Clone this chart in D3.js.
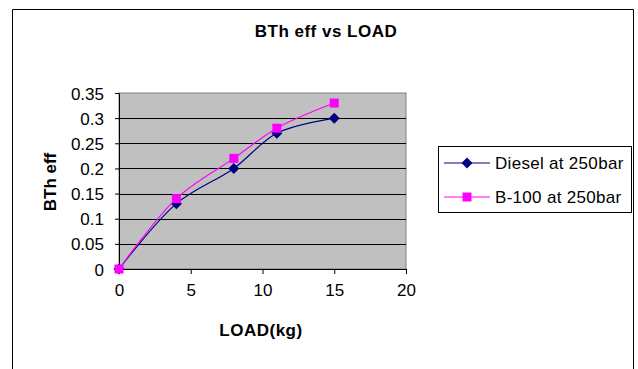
<!DOCTYPE html>
<html>
<head>
<meta charset="utf-8">
<script src="https://cdn.jsdelivr.net/npm/d3@7"></script>
<style>
  body { margin: 0; background: #fff; }
  svg { font-family: "Liberation Sans", Arial, sans-serif; }
</style>
</head>
<body>
<div id="chart"></div>
<script>
var loads = [0, 4, 8, 11, 15]
var dieselEff = [0, 0.13, 0.2, 0.27, 0.30]
var b100Eff = [0, 0.14, 0.22, 0.28, 0.33]
var seriesNames = ["Diesel at 250bar", "B-100 at 250bar"]
var xTicks = [0, 5, 10, 15, 20]
var yTicks = [0, 0.05, 0.1, 0.15, 0.2, 0.25, 0.3, 0.35]

var W = 638, H = 369
var plot = { left: 119, top: 93, right: 406, bottom: 269 }

var svg = d3.select("#chart").append("svg")
  .attr("width", W)
  .attr("height", H)

// outer chart frame (bottom cut off like the source)
svg.append("path")
  .attr("d", "M12.5," + H + "V9.5H633.5V" + H)
  .attr("fill", "none")
  .attr("stroke", "#000")
  .attr("stroke-width", 1)

var x = d3.scaleLinear().domain([0, 20]).range([plot.left, plot.right])
var y = d3.scaleLinear().domain([0, 0.35]).range([plot.bottom, plot.top])

svg.append("rect")
  .attr("x", plot.left)
  .attr("y", plot.top)
  .attr("width", plot.right - plot.left)
  .attr("height", plot.bottom - plot.top)
  .attr("fill", "#c0c0c0")
  .attr("stroke", "#808080")

// gridlines
svg.append("g").selectAll("line")
    .data(yTicks.slice(1, -1))
  .enter().append("line")
    .attr("x1", plot.left)
    .attr("x2", plot.right)
    .attr("y1", d => Math.round(y(d)) + 0.5)
    .attr("y2", d => Math.round(y(d)) + 0.5)
    .attr("stroke", "#000")

var yAxis = svg.append("g")
  .attr("transform", "translate(" + plot.left + ",0)")
  .call(d3.axisLeft(y).tickValues(yTicks).tickFormat(d => String(+d.toFixed(2))).tickSize(4).tickPadding(11))
var xAxis = svg.append("g")
  .attr("transform", "translate(0," + plot.bottom + ")")
  .call(d3.axisBottom(x).tickValues(xTicks).tickSize(5).tickPadding(10))

;[yAxis, xAxis].forEach(a => {
  a.select(".domain").attr("stroke", "#000")
  a.selectAll("line").attr("stroke", "#000")
  a.selectAll("text").attr("font-size", 17).attr("fill", "#000")
    .attr("font-family", "Liberation Sans, Arial, sans-serif")
})
yAxis.selectAll("text").attr("dy", "0.36em")

// titles
svg.append("text")
  .attr("x", 326).attr("y", 37)
  .attr("text-anchor", "middle")
  .attr("font-size", 17).attr("font-weight", "bold")
  .attr("letter-spacing", 0.5)
  .text("BTh eff vs LOAD")

svg.append("text")
  .attr("x", 261).attr("y", 336)
  .attr("text-anchor", "middle")
  .attr("font-size", 17).attr("font-weight", "bold")
  .attr("letter-spacing", 0.5)
  .text("LOAD(kg)")

svg.append("text")
  .attr("transform", "translate(56,182) rotate(-90)")
  .attr("text-anchor", "middle")
  .attr("font-size", 17).attr("font-weight", "bold")
  .text("BTh eff")

var line = d3.line()
  .x(d => x(d[0]))
  .y(d => y(d[1]))
  .curve(d3.curveCatmullRom.alpha(0.5))

var series = [
  { name: seriesNames[0], vals: dieselEff, color: "#000080", marker: "diamond" },
  { name: seriesNames[1], vals: b100Eff, color: "#ff00ff", marker: "square" }
]

function drawMarker(g, kind, color) {
  if (kind == "diamond") {
    g.append("path").attr("d", "M0,-5.5L5.5,0L0,5.5L-5.5,0Z").attr("fill", color)
  } else {
    g.append("rect").attr("x", -4.5).attr("y", -4.5).attr("width", 9).attr("height", 9).attr("fill", color)
  }
}

series.forEach(s => {
  var pts = loads.map((l, i) => [l, s.vals[i]])
  svg.append("path")
    .datum(pts)
    .attr("fill", "none")
    .attr("stroke", s.color)
    .attr("stroke-width", 1.2)
    .attr("d", line)
  pts.forEach(p => {
    var g = svg.append("g").attr("transform", "translate(" + x(p[0]) + "," + y(p[1]) + ")")
    drawMarker(g, s.marker, s.color)
  })
})

// legend
var lg = svg.append("g")
lg.append("rect")
  .attr("x", 438.5).attr("y", 146.5)
  .attr("width", 193).attr("height", 66)
  .attr("fill", "#fff").attr("stroke", "#000")
series.forEach((s, i) => {
  var cy = 163 + i * 34
  lg.append("line")
    .attr("x1", 444).attr("x2", 490)
    .attr("y1", cy).attr("y2", cy)
    .attr("stroke", s.color).attr("stroke-width", 1.2)
  var g = lg.append("g").attr("transform", "translate(467," + cy + ")")
  drawMarker(g, s.marker, s.color)
  lg.append("text")
    .attr("x", 495).attr("y", cy + 6)
    .attr("font-size", 17)
    .attr("letter-spacing", 0.3)
    .text(s.name)
})
</script>
</body>
</html>
